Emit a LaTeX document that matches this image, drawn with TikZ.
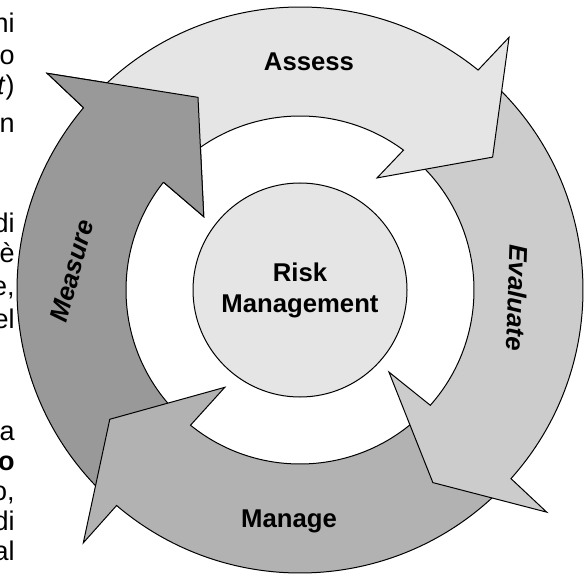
\documentclass[tikz,border=0pt]{standalone}
\usepackage{fontspec}
\setmainfont{Liberation Sans}
\usetikzlibrary{positioning}

\tikzset{
  cyclearrow/.style={draw=black, line width=0.5pt},
  phase/.style={font=\bfseries\fontsize{12.85}{15.5}\selectfont, inner sep=0pt},
  phaseit/.style={font=\bfseries\itshape\fontsize{12.85}{15.5}\selectfont, inner sep=0pt},
  margintext/.style={anchor=base east, inner sep=0pt, font=\fontsize{13.5}{16}\selectfont},
}

\begin{document}
\begin{tikzpicture}[x=0.5pt, y=0.5pt]
    \useasboundingbox (0,0) rectangle (588,573);

    % Text cut off at the left margin
    \node[margintext] (l1) at (15,540) {ni};
    \node[margintext] (l2) at (15,508) {o};
    \node[margintext] (l3) at (15,478) {\textit{t})};
    \node[margintext] (l4) at (15,440) {n};
    \node[margintext] (l5) at (15,340) {di};
    \node[margintext] (l6) at (15,310) {è};
    \node[margintext] (l7) at (15,277) {e,};
    \node[margintext] (l8) at (15,244) {el};
    \node[margintext] (l9) at (15,133) {a};
    \node[margintext] (l10) at (15,103) {\textbf{o}};
    \node[margintext] (l11) at (15,73) {o,};
    \node[margintext] (l12) at (15,43) {di};
    \node[margintext] (l13) at (15,13) {al};

    \begin{scope}[shift={(300,283)}]
    % Measure
    \draw[cyclearrow, fill=black!40] (227:283) arc[start angle=227, end angle=139.9, radius=283]
        -- (139.4:333) -- (117.9:218) -- (142.7:121) -- (141.7:174)
        arc[start angle=141.7, end angle=227, radius=174] -- cycle;
    % Manage
    \draw[cyclearrow, fill=black!30] (-45:283) arc[start angle=-45, end angle=-130.4, radius=283]
        -- (-130.6:333) -- (-145.8:230) -- (-127.7:123) -- (-129:174)
        arc[start angle=-129, end angle=-45, radius=174] -- cycle;
    % Evaluate
    \draw[cyclearrow, fill=black!20] (48:283) arc[start angle=48, end angle=-41.8, radius=283]
        -- (-42:332) -- (-55.4:234) -- (-42.7:121) -- (-41.5:174)
        arc[start angle=-41.5, end angle=48, radius=174] -- cycle;
    % Assess
    \draw[cyclearrow, fill=black!10] (136:283) arc[start angle=136, end angle=51, radius=283]
        -- (50.4:328) -- (34.6:234) -- (55.5:136) -- (53.5:174)
        arc[start angle=53.5, end angle=136, radius=174] -- cycle;
    % Measure head again, over the tail of Assess
    \fill[black!40] (139.9:283) -- (139.4:333) -- (117.9:218) -- (142.7:121) -- (141.7:174) -- cycle;
    \draw[cyclearrow] (139.9:283) -- (139.4:333) -- (117.9:218) -- (142.7:121) -- (141.7:174);
    \end{scope}

    % Centre
    \node[circle, draw, line width=0.5pt, fill=black!10, minimum size=107pt, inner sep=0pt,
          align=center, font=\bfseries\fontsize{12.85}{15.5}\selectfont] (core) at (300,283) {Risk\\Management};

    % Labels
    \node[phase, anchor=base] (assess) at (309,502) {Assess};
    \node[phaseit, rotate=-92] (evaluate) at (517,275) {Evaluate};
    \node[phase, anchor=base] (manage) at (289,46) {Manage};
    \node[phaseit, rotate=75] (measure) at (72,302) {Measure};
\end{tikzpicture}
\end{document}
